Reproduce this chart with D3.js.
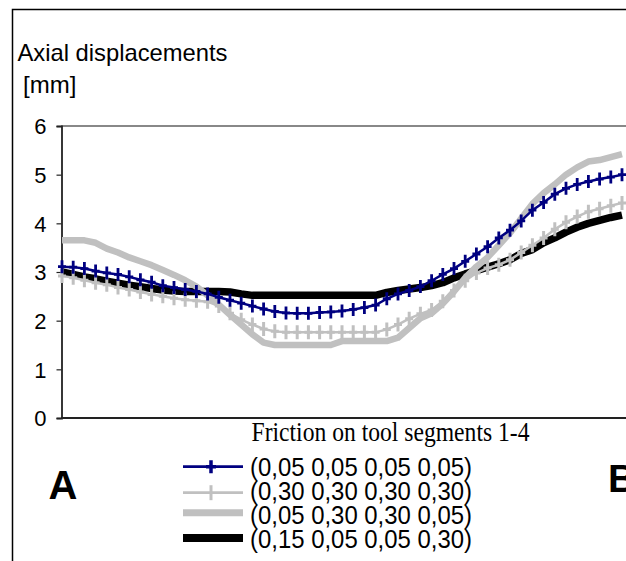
<!DOCTYPE html>
<html>
<head>
<meta charset="utf-8">
<script src="https://cdn.jsdelivr.net/npm/d3@7/dist/d3.min.js"></script>
<style>
  html, body { margin: 0; padding: 0; background: #fff; }
  svg { display: block; }
</style>
</head>
<body>
<svg id="chart" width="626" height="561"></svg>
<script>
// ---- data ----
const yTicks = [0, 1, 2, 3, 4, 5, 6];
const seriesNames = [
  "(0,05 0,05 0,05 0,05)",
  "(0,30 0,30 0,30 0,30)",
  "(0,05 0,30 0,30 0,05)",
  "(0,15 0,05 0,05 0,30)"
];
const legendTitle = "Friction on tool segments 1-4";
const yTitle = "Axial displacements";
const yUnit = "[mm]";

const s1 = [3.11,3.10,3.07,3.02,2.98,2.95,2.90,2.84,2.79,2.72,2.68,2.64,2.60,2.55,2.48,2.42,2.36,2.30,2.24,2.19,2.16,
            2.15,2.15,2.17,2.18,2.20,2.23,2.27,2.32,2.45,2.55,2.62,2.70,2.82,2.95,3.07,3.22,3.37,3.52,3.70,3.86,
            4.05,4.27,4.43,4.60,4.72,4.80,4.86,4.91,4.95,5.00];
const s2 = [2.92,2.88,2.83,2.78,2.74,2.68,2.64,2.59,2.54,2.50,2.46,2.43,2.41,2.39,2.30,2.15,2.02,1.92,1.83,1.78,1.76,
            1.76,1.76,1.76,1.76,1.76,1.76,1.76,1.76,1.82,1.92,2.04,2.14,2.22,2.40,2.62,2.82,2.98,3.08,3.15,3.25,
            3.40,3.55,3.70,3.88,4.02,4.14,4.24,4.30,4.36,4.42];
const s3 = [3.65,3.65,3.65,3.60,3.48,3.40,3.30,3.22,3.14,3.04,2.94,2.83,2.70,2.52,2.33,2.12,1.92,1.72,1.55,1.50,1.50,
            1.50,1.50,1.50,1.50,1.58,1.58,1.58,1.58,1.58,1.65,1.85,2.05,2.15,2.35,2.60,2.88,3.11,3.30,3.55,3.80,
            4.10,4.40,4.62,4.80,5.00,5.15,5.27,5.30,5.36,5.42];
const s4 = [3.00,2.95,2.90,2.86,2.81,2.77,2.73,2.70,2.66,2.63,2.61,2.60,2.60,2.60,2.60,2.59,2.55,2.52,2.52,2.52,2.52,
            2.52,2.52,2.52,2.52,2.52,2.52,2.52,2.52,2.58,2.62,2.65,2.68,2.72,2.78,2.88,2.96,3.03,3.10,3.17,3.25,
            3.38,3.46,3.60,3.70,3.82,3.92,4.00,4.06,4.12,4.17];

// ---- layout ----
const svg = d3.select("#chart");
const x = d3.scaleLinear().domain([0, s1.length - 1]).range([62, 622]);
const y = d3.scaleLinear().domain([0, 6]).range([418, 126]);

// frame
svg.append("path").attr("d", "M12.5,561 V9.5 H626")
  .attr("fill", "none").attr("stroke", "#000").attr("stroke-width", 1.5);

// titles
svg.append("text").attr("x", 17.5).attr("y", 61)
  .attr("font-family", "Liberation Sans, Arial, sans-serif").attr("font-size", 24)
  .attr("textLength", 210).attr("lengthAdjust", "spacingAndGlyphs")
  .text(yTitle);
svg.append("text").attr("x", 23).attr("y", 93)
  .attr("font-family", "Liberation Sans, Arial, sans-serif").attr("font-size", 24)
  .text(yUnit);

// top border of plot
svg.append("line").attr("x1", 61).attr("x2", 626).attr("y1", y(6)).attr("y2", y(6))
  .attr("stroke", "#888").attr("stroke-width", 2);

// y axis
const yAxis = d3.axisLeft(y).tickValues(yTicks).tickSize(5).tickPadding(10).tickFormat(d3.format("d"));
const ga = svg.append("g").attr("transform", "translate(61.5,0)").call(yAxis);
ga.select(".domain").attr("stroke", "#222").attr("stroke-width", 1.8);
ga.selectAll(".tick line").attr("stroke", "#222").attr("stroke-width", 1.2);
ga.selectAll(".tick text")
  .attr("font-family", "Liberation Sans, Arial, sans-serif").attr("font-size", 22)
  .attr("fill", "#000").attr("dy", "0.36em");

// x axis line
svg.append("line").attr("x1", 61).attr("x2", 626).attr("y1", y(0)).attr("y2", y(0))
  .attr("stroke", "#222").attr("stroke-width", 2);

// series lines
const line = d3.line().x((d, i) => x(i)).y(d => y(d));
const plot = svg.append("g");

plot.append("path").datum(s4).attr("d", line)
  .attr("fill", "none").attr("stroke", "#000").attr("stroke-width", 7.5).attr("stroke-linejoin", "round");
plot.append("path").datum(s3).attr("d", line)
  .attr("fill", "none").attr("stroke", "#c0c0c0").attr("stroke-width", 6.5).attr("stroke-linejoin", "round");

function plusMarkers(g, data, color, h, w, sw) {
  g.selectAll(null).data(data).enter().append("path")
    .attr("d", (d, i) => `M${x(i)},${y(d) - h / 2}V${y(d) + h / 2}M${x(i) - w / 2},${y(d)}H${x(i) + w / 2}`)
    .attr("stroke", color).attr("stroke-width", sw).attr("fill", "none");
}

plot.append("path").datum(s2).attr("d", line)
  .attr("fill", "none").attr("stroke", "#c0c0c0").attr("stroke-width", 2.5);
plusMarkers(plot.append("g"), s2, "#c0c0c0", 14, 8, 3);

plot.append("path").datum(s1).attr("d", line)
  .attr("fill", "none").attr("stroke", "#000080").attr("stroke-width", 2.5);
plusMarkers(plot.append("g"), s1, "#000080", 13, 8, 2.8);

// legend
svg.append("text").attr("x", 251.5).attr("y", 441)
  .attr("font-family", "Liberation Serif, Times New Roman, serif").attr("font-size", 28)
  .attr("textLength", 278).attr("lengthAdjust", "spacingAndGlyphs")
  .text(legendTitle);

const legY = [466.7, 492.7, 512.7, 538];
const txtY = [476, 500, 523.5, 548];
const lx1 = 183, lx2 = 243, lmid = 211;
// series 1
svg.append("line").attr("x1", lx1).attr("x2", lx2).attr("y1", legY[0]).attr("y2", legY[0])
  .attr("stroke", "#000080").attr("stroke-width", 2.8);
svg.append("path").attr("d", `M${lmid},${legY[0] - 6.5}V${legY[0] + 6.5}M${lmid - 5},${legY[0]}H${lmid + 5}`)
  .attr("stroke", "#000080").attr("stroke-width", 3.5);
// series 2
svg.append("line").attr("x1", lx1).attr("x2", lx2).attr("y1", legY[1]).attr("y2", legY[1])
  .attr("stroke", "#c0c0c0").attr("stroke-width", 2.8);
svg.append("path").attr("d", `M${lmid},${legY[1] - 7.5}V${legY[1] + 7.5}`)
  .attr("stroke", "#c0c0c0").attr("stroke-width", 3);
// series 3
svg.append("line").attr("x1", lx1).attr("x2", lx2).attr("y1", legY[2]).attr("y2", legY[2])
  .attr("stroke", "#c0c0c0").attr("stroke-width", 7);
// series 4
svg.append("line").attr("x1", lx1).attr("x2", lx2).attr("y1", legY[3]).attr("y2", legY[3])
  .attr("stroke", "#000").attr("stroke-width", 8);

seriesNames.forEach((n, i) => {
  svg.append("text").attr("x", 250).attr("y", txtY[i])
    .attr("font-family", "Liberation Sans, Arial, sans-serif").attr("font-size", 26)
    .attr("textLength", 222).attr("lengthAdjust", "spacingAndGlyphs")
    .text(n);
});

// A / B labels
svg.append("text").attr("x", 48.5).attr("y", 499)
  .attr("font-family", "Liberation Sans, Arial, sans-serif").attr("font-weight", "bold").attr("font-size", 40)
  .text("A");
svg.append("text").attr("x", 608).attr("y", 492)
  .attr("font-family", "Liberation Sans, Arial, sans-serif").attr("font-weight", "bold").attr("font-size", 39)
  .text("B");
</script>
</body>
</html>
